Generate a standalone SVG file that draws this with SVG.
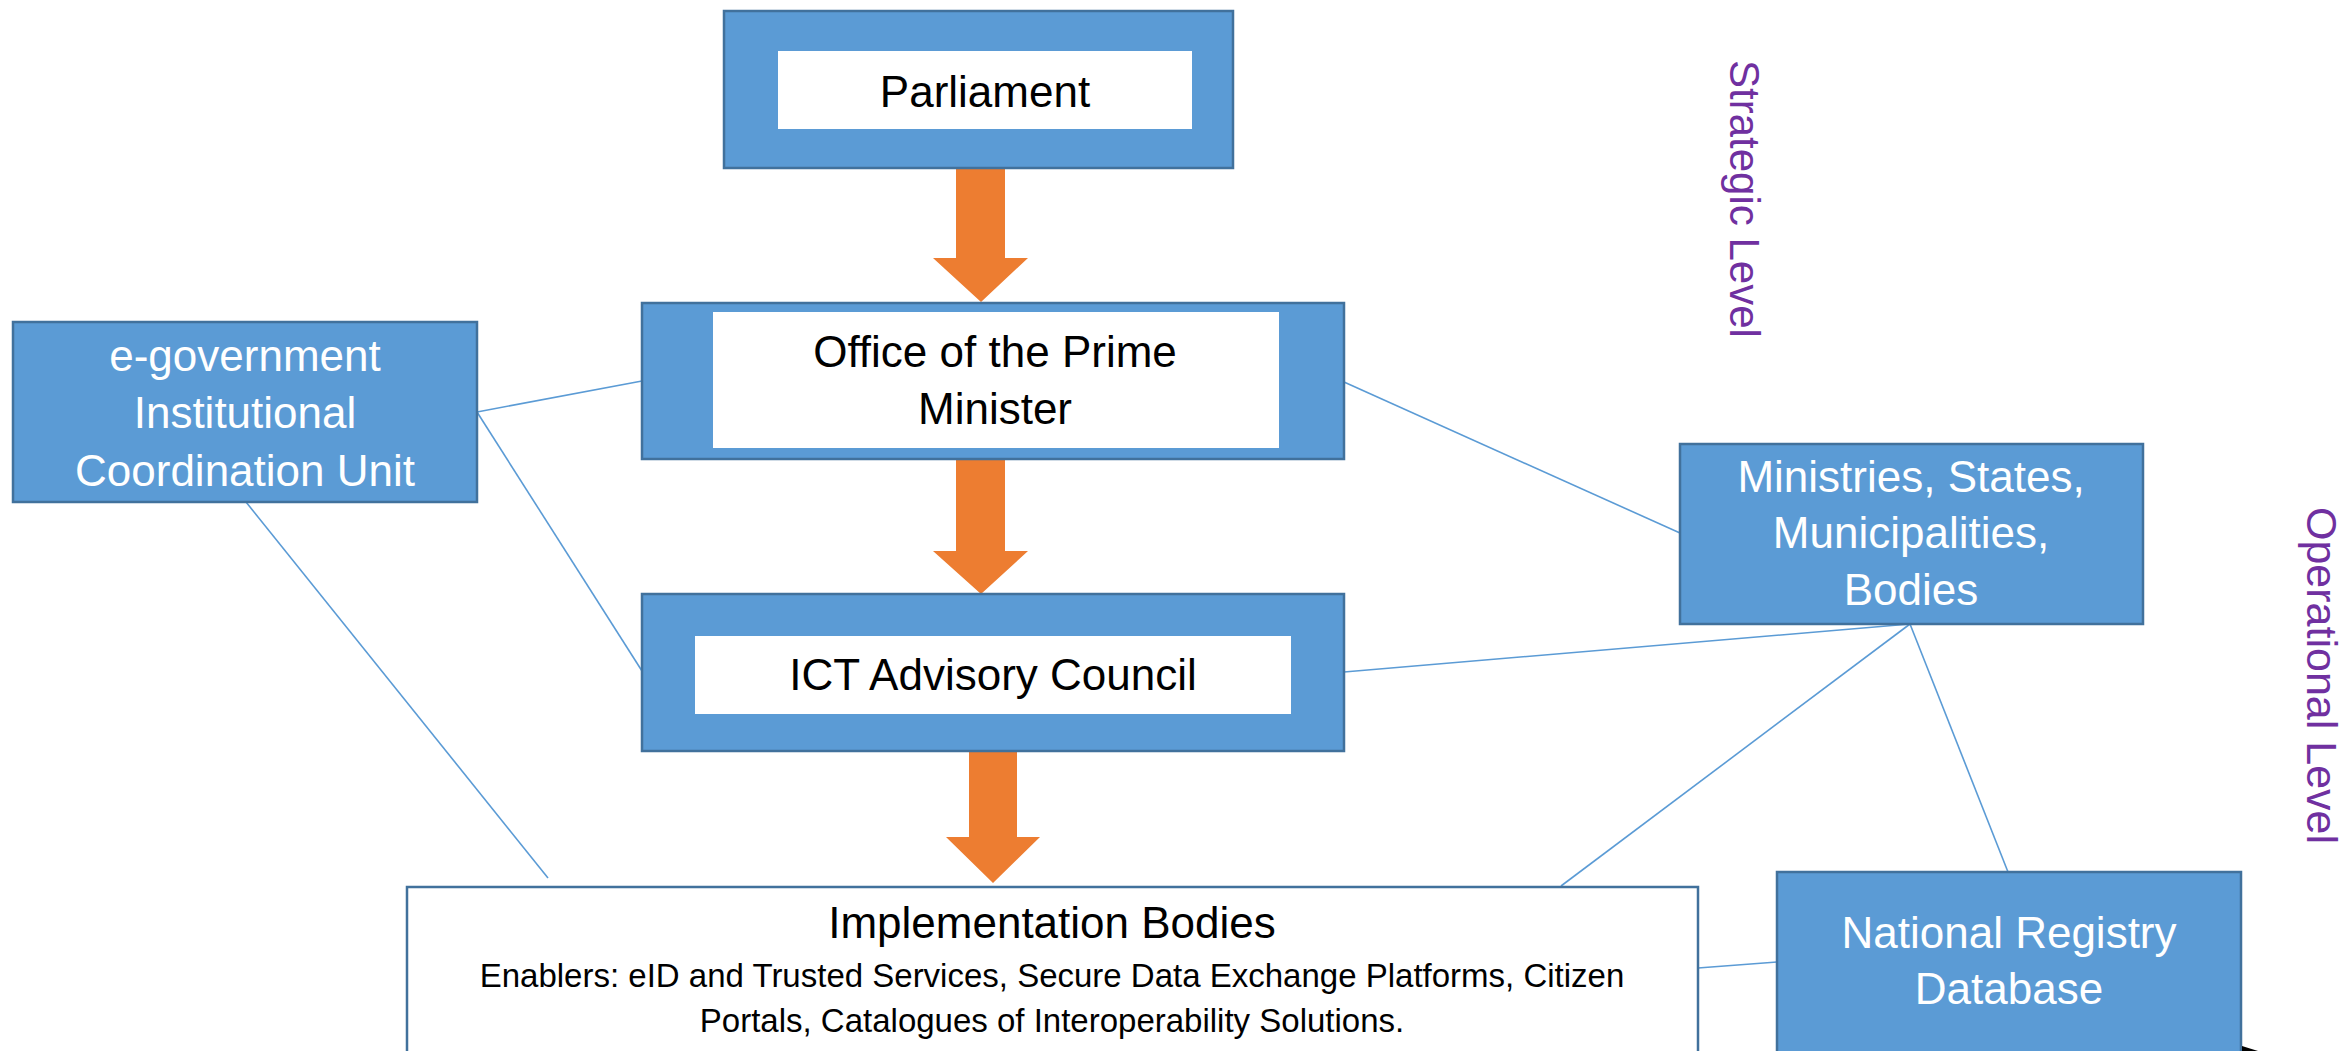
<svg xmlns="http://www.w3.org/2000/svg" width="2343" height="1051" viewBox="0 0 2343 1051">
  <style>
    .box { fill: #5B9BD5; stroke: #41719C; stroke-width: 2.5; }
    .inner { fill: #FFFFFF; stroke: none; }
    .white-box { fill: #FFFFFF; stroke: #41719C; stroke-width: 2.5; }
    .arrow { fill: #ED7D31; stroke: none; }
    .conn { stroke: #5B9BD5; stroke-width: 1.6; fill: none; }
    .t { font-family: "Liberation Sans", Arial, sans-serif; font-size: 44px; text-anchor: middle; }
    .dark { fill: #000000; }
    .light { fill: #FFFFFF; }
    .small { font-size: 33px; }
    .level { font-family: "Liberation Sans", Arial, sans-serif; font-size: 42px; fill: #7030A0; }
  </style>

  <g id="connectors">
    <line class="conn" x1="477" y1="412" x2="642" y2="381"/>
    <line class="conn" x1="477" y1="412" x2="642" y2="671"/>
    <line class="conn" x1="246" y1="502" x2="548" y2="878"/>
    <line class="conn" x1="1344" y1="382" x2="1680" y2="533"/>
    <line class="conn" x1="1344" y1="672" x2="1910" y2="624"/>
    <line class="conn" x1="1910" y1="624" x2="1561" y2="886"/>
    <line class="conn" x1="1910" y1="624" x2="2008" y2="872"/>
    <line class="conn" x1="1698" y1="968" x2="1777" y2="962"/>
  </g>

  <g id="flow-arrows">
    <polygon class="arrow" points="956,168 1005,168 1005,258 1028,258 981,302 933,258 956,258"/>
    <polygon class="arrow" points="956,459 1005,459 1005,551 1028,551 981,594 933,551 956,551"/>
    <polygon class="arrow" points="969,751 1017,751 1017,837 1040,837 993,883 946,837 969,837"/>
  </g>

  <g id="parliament">
    <rect class="box" x="724" y="11" width="509" height="157"/>
    <rect class="inner" x="778" y="51" width="414" height="78"/>
    <text class="t dark" x="985" y="107">Parliament</text>
  </g>

  <g id="office-pm">
    <rect class="box" x="642" y="303" width="702" height="156"/>
    <rect class="inner" x="713" y="312" width="566" height="136"/>
    <text class="t dark" x="995" y="367">Office of the Prime</text>
    <text class="t dark" x="995" y="424">Minister</text>
  </g>

  <g id="ict-council">
    <rect class="box" x="642" y="594" width="702" height="157"/>
    <rect class="inner" x="695" y="636" width="596" height="78"/>
    <text class="t dark" x="993" y="690">ICT Advisory Council</text>
  </g>

  <g id="egov-unit">
    <rect class="box" x="13" y="322" width="464" height="180"/>
    <text class="t light" x="245" y="371">e-government</text>
    <text class="t light" x="245" y="428">Institutional</text>
    <text class="t light" x="245" y="486">Coordination Unit</text>
  </g>

  <g id="ministries">
    <rect class="box" x="1680" y="444" width="463" height="180"/>
    <text class="t light" x="1911" y="492">Ministries, States,</text>
    <text class="t light" x="1911" y="548">Municipalities,</text>
    <text class="t light" x="1911" y="605">Bodies</text>
  </g>

  <g id="implementation">
    <rect class="white-box" x="407" y="887" width="1291" height="180"/>
    <text class="t dark" x="1052" y="938">Implementation Bodies</text>
    <text class="t dark small" x="1052" y="987">Enablers: eID and Trusted Services, Secure Data Exchange Platforms, Citizen</text>
    <text class="t dark small" x="1052" y="1032">Portals, Catalogues of Interoperability Solutions.</text>
  </g>

  <g id="national-registry">
    <rect class="box" x="1777" y="872" width="464" height="195"/>
    <text class="t light" x="2009" y="948">National Registry</text>
    <text class="t light" x="2009" y="1004">Database</text>
  </g>

  <g id="corner-mark">
    <polygon points="2242,1046 2258,1051 2242,1051" fill="#000000"/>
  </g>

  <g id="level-labels">
    <text class="level" transform="translate(1730,60) rotate(90)">Strategic Level</text>
    <text class="level" style="font-size:43px" transform="translate(2307,507) rotate(90)">Operational Level</text>
  </g>
</svg>
